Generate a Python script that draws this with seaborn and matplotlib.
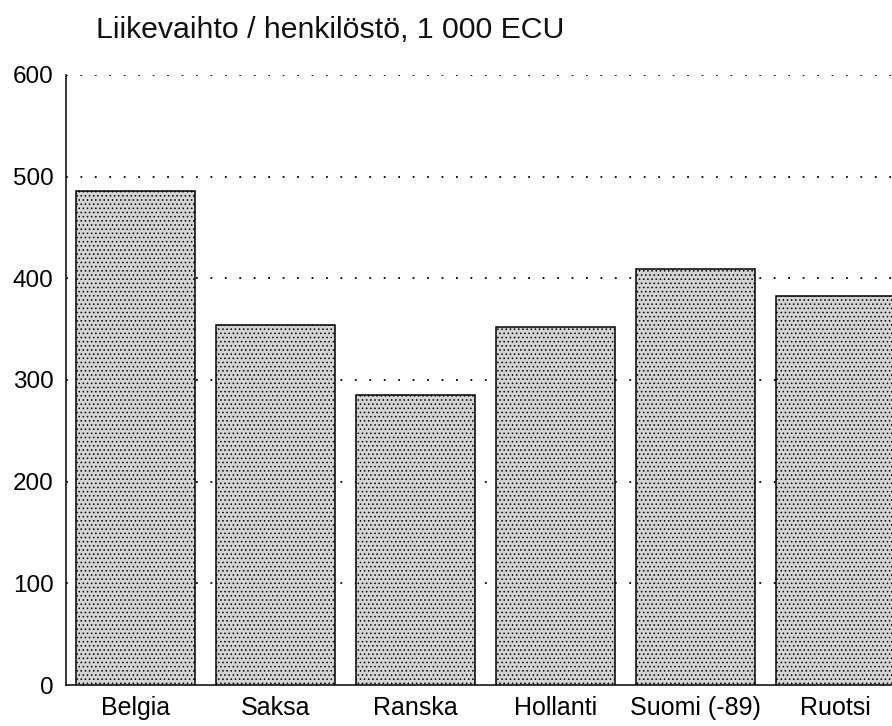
import matplotlib
matplotlib.use("Agg")
import matplotlib.pyplot as plt
import seaborn as sns
import pandas as pd

countries = ["Belgia", "Saksa", "Ranska", "Hollanti", "Suomi (-89)", "Ruotsi"]
values = [486, 354, 285, 352, 409, 383]
yticks = [0, 100, 200, 300, 400, 500, 600]
title = "Liikevaihto / henkilöstö, 1 000 ECU"

sns.set_theme(style="white")
plt.rcParams["font.family"] = ["Liberation Sans", "DejaVu Sans"]
plt.rcParams["hatch.linewidth"] = 0.6
plt.rcParams["hatch.color"] = "#333333"

df = pd.DataFrame({"maa": countries, "arvo": values})

fig = plt.figure(figsize=(8.92, 7.26), dpi=100)
W, H = 892, 726
left_px, right_px = 66, 892
bottom_px, top_px = 685, 75
ax = fig.add_axes([left_px / W, 1 - bottom_px / H, (right_px - left_px) / W, (bottom_px - top_px) / H])

sns.barplot(data=df, x="maa", y="arvo", ax=ax, color="#d4d4d4",
            edgecolor="black", linewidth=1.1, width=0.85, saturation=1)
for p in ax.patches:
    p.set_hatch("....")
    p.set_zorder(3)

ax.set_ylim(0, 600)
ax.set_xlim(-0.5, (892 - 135.5) / 140)
ax.set_yticks(yticks)
ax.set_yticklabels([str(v) for v in yticks])
ax.set_xlabel("")
ax.set_ylabel("")

for v in yticks[1:]:
    ax.axhline(v, color="black", linewidth=1.3, linestyle=(0, (1, 7)), zorder=1)

for s in ["top", "right"]:
    ax.spines[s].set_visible(False)
ax.spines["left"].set_color("black")
ax.spines["bottom"].set_color("black")
ax.spines["left"].set_linewidth(1.1)
ax.spines["bottom"].set_linewidth(1.1)

ax.tick_params(axis="y", length=0, pad=9, labelsize=17.5, colors="black")
ax.tick_params(axis="x", length=0, pad=8, labelsize=18, colors="black")

fig.text(96 / W, 1 - 38 / H, title, fontsize=21.8, va="baseline", ha="left", color="#111111")

fig.savefig("out.png", dpi=100)
